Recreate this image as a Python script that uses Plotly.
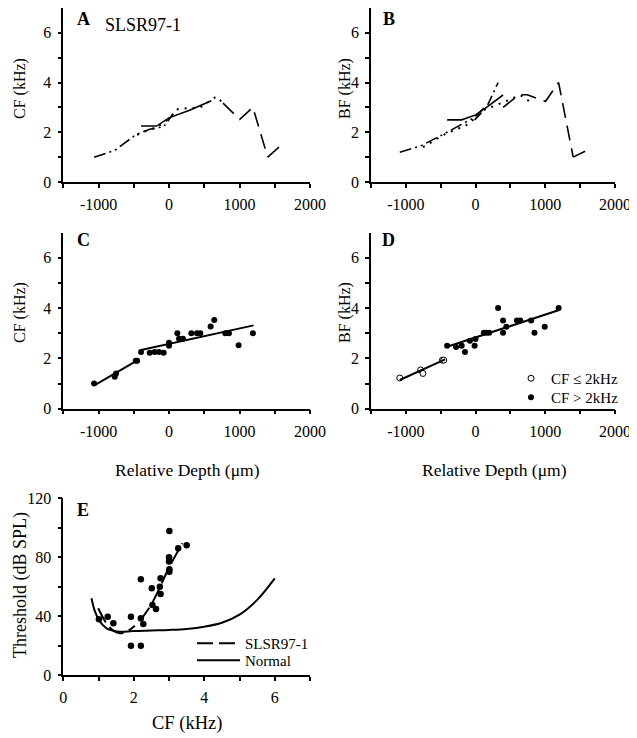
import plotly.graph_objects as go

# page body has an 8px default margin, so the figure is drawn 8px in from the corner
OFF = 8
W, H = 637 - OFF, 738 - OFF
FONT = "Liberation Serif, Times New Roman, serif"

# ---------------- Data ----------------
# Panel A: CF vs relative depth, per-penetration tracks
a_t1_x = [-1063, -770, -472, -274, -142, -76, 60]
a_t1_y = [1.0, 1.27, 1.9, 2.12, 2.19, 2.22, 2.75]
a_t2_x = [-397, -177, 0, 300, 600]
a_t2_y = [2.25, 2.25, 2.58, 2.9, 3.27]
a_t3_x = [-453, -274, -177, 0, 128, 318, 444, 602, 673, 766]
a_t3_y = [1.9, 2.12, 2.19, 2.55, 2.94, 2.98, 3.0, 3.31, 3.44, 3.17]
a_t4_x = [766, 1003, 1190, 1400]
a_t4_y = [3.17, 2.52, 3.0, 1.0]
a_t5_x = [1400, 1600]
a_t5_y = [1.0, 1.5]

# Panel B: BF vs relative depth, per-penetration tracks
b_t1_x = [-1087, -788, -456, -280, -152, -14, 119]
b_t1_y = [1.2, 1.45, 1.93, 2.2, 2.4, 2.6, 2.98]
b_t2_x = [-408, -199, 0, 157, 394]
b_t2_y = [2.5, 2.5, 2.7, 3.0, 3.5]
b_t3_x = [-755, -456, -280, -152, -81, 119, 394, 441, 641, 797]
b_t3_y = [1.4, 1.9, 2.12, 2.25, 2.39, 2.9, 3.2, 3.26, 3.5, 3.2]
b_t4_x = [-14, 157, 241, 323]
b_t4_y = [2.5, 3.0, 3.5, 4.0]
b_t5_x = [394, 574, 621, 741, 1002, 1191, 1400]
b_t5_y = [3.0, 3.38, 3.51, 3.51, 3.24, 4.0, 1.0]
b_t6_x = [1400, 1571]
b_t6_y = [1.0, 1.24]

# Panel C: CF scatter
c_x = [-1063, -770, -751, -472, -453, -397, -274, -203, -142, -76, 0, 0,
       118, 142, 198, 316, 397, 444, 590, 642, 798, 850, 987, 1190]
c_y = [1.0, 1.27, 1.4, 1.9, 1.9, 2.25, 2.22, 2.25, 2.25, 2.22, 2.5, 2.62,
       3.0, 2.78, 2.78, 3.0, 3.0, 3.0, 3.27, 3.52, 3.0, 3.0, 2.52, 3.0]
c_fit1_x = [-1053, -425]
c_fit1_y = [0.94, 1.96]
c_fit2_x = [-397, 1200]
c_fit2_y = [2.33, 3.31]

# Panel D: BF scatter
d_low_x = [-1087, -788, -755, -475, -456]
d_low_y = [1.22, 1.54, 1.40, 1.93, 1.93]
d_high_x = [-408, -280, -199, -152, -81, -14, 0, 119, 157, 195, 323, 394, 394,
            441, 593, 641, 797, 845, 992, 1191]
d_high_y = [2.5, 2.45, 2.5, 2.25, 2.7, 2.5, 2.77, 3.02, 3.02, 3.02, 4.0, 3.5, 3.02,
            3.26, 3.5, 3.5, 3.5, 3.02, 3.26, 4.0]
d_fit1_x = [-1087, -437]
d_fit1_y = [1.14, 1.96]
d_fit2_x = [-408, 1200]
d_fit2_y = [2.46, 3.92]

# Panel E: threshold vs CF
e_x = [1.01, 1.26, 1.42, 1.92, 1.92, 2.20, 2.20, 2.20, 2.27, 2.51, 2.53, 2.63,
       2.74, 2.76, 2.76, 3.0, 3.0, 3.01, 3.01, 3.01, 3.26, 3.50]
e_y = [37.8, 39.6, 35.1, 39.6, 19.9, 19.9, 65.0, 38.5, 34.6, 58.9, 47.5, 44.8,
       60.0, 65.7, 55.0, 79.9, 77.0, 71.8, 70.2, 97.8, 86.0, 88.1]
e_slsr1_x = [0.99, 1.2, 1.4, 1.6, 1.8, 2.03]
e_slsr1_y = [45.3, 36.0, 30.5, 28.3, 29.5, 33.5]
e_slsr2_x = [2.17, 2.5, 2.75, 3.0, 3.38]
e_slsr2_y = [36.5, 48.0, 60.0, 73.0, 89.4]
e_norm_x = [0.8, 0.9, 1.04, 1.23, 1.42, 1.61, 1.8, 2.0, 2.5, 3.0, 3.5, 4.0,
            4.5, 5.0, 5.5, 6.0]
e_norm_y = [52.1, 43.0, 36.2, 31.7, 30.1, 29.4, 29.5, 29.8, 30.2, 30.6, 31.3,
            32.8, 35.5, 41.0, 51.0, 65.6]

depth_ticks = [-1500, -1000, -500, 0, 500, 1000, 1500, 2000]
depth_text = ["", "-1000", "", "0", "", "1000", "", "2000"]
freq_ticks = [0, 1, 2, 3, 4, 5, 6]
freq_text = ["0", "", "2", "", "4", "", "6"]
cfE_ticks = [0, 1, 2, 3, 4, 5, 6, 7]
cfE_text = ["0", "", "2", "", "4", "", "6", ""]
thr_ticks = [0, 20, 40, 60, 80, 100, 120]
thr_text = ["0", "", "40", "", "80", "", "120"]

# ---------------- Figure ----------------
fig = go.Figure()
LW = 1.6

def line(x, y, dash, ax, width=LW, shape="linear", **kw):
    fig.add_trace(go.Scatter(x=x, y=y, mode="lines", xaxis="x" + ax, yaxis="y" + ax,
                             line=dict(color="black", width=width, dash=dash, shape=shape),
                             showlegend=False, hoverinfo="skip", **kw))

DDD = "12px,4px,2px,4px,2px,4px"
DOT = "2px,6px"
LDASH = "15px,8px"

line(a_t1_x, a_t1_y, DDD, "")
line(a_t2_x, a_t2_y, "solid", "")
line(a_t3_x, a_t3_y, DOT, "", width=2)
line(a_t4_x, a_t4_y, LDASH, "")
line(a_t5_x, a_t5_y, LDASH, "")

line(b_t1_x, b_t1_y, DDD, "2")
line(b_t2_x, b_t2_y, "solid", "2")
line(b_t3_x, b_t3_y, DOT, "2", width=2)
line(b_t4_x, b_t4_y, "10px,4px,2px,4px", "2")
line(b_t5_x, b_t5_y, LDASH, "2")
line(b_t6_x, b_t6_y, LDASH, "2")

# Panel C
fig.add_trace(go.Scatter(x=c_x, y=c_y, mode="markers", xaxis="x3", yaxis="y3",
                         marker=dict(color="black", size=6), showlegend=False))
line(c_fit1_x, c_fit1_y, "solid", "3", width=2)
line(c_fit2_x, c_fit2_y, "solid", "3", width=2)

# Panel D
fig.add_trace(go.Scatter(x=d_low_x, y=d_low_y, mode="markers", xaxis="x4", yaxis="y4",
                         name="CF ≤ 2kHz", legend="legend",
                         marker=dict(color="white", size=6, line=dict(color="black", width=1))))
fig.add_trace(go.Scatter(x=d_high_x, y=d_high_y, mode="markers", xaxis="x4", yaxis="y4",
                         name="CF > 2kHz", legend="legend2",
                         marker=dict(color="black", size=6)))
line(d_fit1_x, d_fit1_y, "solid", "4", width=2)
line(d_fit2_x, d_fit2_y, "solid", "4", width=2)

# Panel E
fig.add_trace(go.Scatter(x=e_x, y=e_y, mode="markers", xaxis="x5", yaxis="y5",
                         marker=dict(color="black", size=6.5), showlegend=False))
fig.add_trace(go.Scatter(x=e_slsr1_x, y=e_slsr1_y, mode="lines", xaxis="x5", yaxis="y5",
                         name="SLSR97-1", legend="legend3", legendgroup="slsr",
                         line=dict(color="black", width=2, dash="16px,6px", shape="spline")))
fig.add_trace(go.Scatter(x=e_slsr2_x, y=e_slsr2_y, mode="lines", xaxis="x5", yaxis="y5",
                         name="SLSR97-1", legend="legend3", legendgroup="slsr", showlegend=False,
                         line=dict(color="black", width=2, dash="16px,6px", shape="spline")))
fig.add_trace(go.Scatter(x=e_norm_x, y=e_norm_y, mode="lines", xaxis="x5", yaxis="y5",
                         name="Normal", legend="legend4",
                         line=dict(color="black", width=2, shape="spline")))

def px_x(p):
    return (p - OFF) / W

def px_y(p):
    return 1 - (p - OFF) / H

xA = [px_x(63.3), px_x(310)]
xB = [px_x(371), px_x(615)]
yA = [px_y(182), min(px_y(5), 1.0)]
yC = [px_y(408.7), px_y(232.5)]
yE = [px_y(675), px_y(498.3)]

def axis(domain, rng, tv, tt, anchor):
    return dict(domain=domain, range=rng, tickvals=tv, ticktext=tt, anchor=anchor,
                automargin=False,
                showline=True, linecolor="black", linewidth=1.5, ticks="outside",
                ticklen=4, tickwidth=1.5, tickcolor="black", showgrid=False, zeroline=False,
                tickfont=dict(family=FONT, size=16, color="black"), ticklabelstandoff=3,
                fixedrange=True)

def leg(x, y, fs, iw):
    return dict(x=px_x(x), y=px_y(y), xanchor="left", yanchor="top",
                bgcolor="rgba(0,0,0,0)", font=dict(family=FONT, size=fs),
                itemwidth=iw, tracegroupgap=0, borderwidth=0)

fig.update_layout(
    template="none",
    width=W, height=H, margin=dict(l=0, r=0, t=0, b=0, autoexpand=False),
    paper_bgcolor="white", plot_bgcolor="white",
    font=dict(family=FONT, size=16, color="black"),
    xaxis=axis(xA, [-1500, 2000], depth_ticks, depth_text, "y"),
    yaxis=axis(yA, [0, 7], freq_ticks, freq_text, "x"),
    xaxis2=axis(xB, [-1500, 2000], depth_ticks, depth_text, "y2"),
    yaxis2=axis(yA, [0, 7], freq_ticks, freq_text, "x2"),
    xaxis3=axis(xA, [-1500, 2000], depth_ticks, depth_text, "y3"),
    yaxis3=axis(yC, [0, 7], freq_ticks, freq_text, "x3"),
    xaxis4=axis(xB, [-1500, 2000], depth_ticks, depth_text, "y4"),
    yaxis4=axis(yC, [0, 7], freq_ticks, freq_text, "x4"),
    xaxis5=axis(xA, [0, 7], cfE_ticks, cfE_text, "y5"),
    yaxis5=axis(yE, [0, 120], thr_ticks, thr_text, "x5"),
    legend=leg(511, 362, 15, 30),
    legend2=leg(511, 381, 15, 30),
    legend3=leg(192, 627, 15, 43),
    legend4=leg(192, 644, 15, 43),
)

def ann(text, x, y, size=18, angle=0, bold=False):
    t = f"<b>{text}</b>" if bold else text
    fig.add_annotation(text=t, x=px_x(x), y=px_y(y), xref="paper", yref="paper",
                       showarrow=False, textangle=angle, xanchor="center", yanchor="middle",
                       font=dict(family=FONT, size=size, color="black"))

ann("A", 83, 19, 18, bold=True)
ann("B", 389, 19, 18, bold=True)
ann("C", 83, 240, 18, bold=True)
ann("D", 389, 240, 18, bold=True)
ann("E", 83, 510, 18, bold=True)
ann("SLSR97-1", 143, 25, 18)
ann("CF (kHz)", 20, 89, 16, -90)
ann("BF (kHz)", 345, 89, 16, -90)
ann("CF (kHz)", 20, 313, 16, -90)
ann("BF (kHz)", 345, 313, 16, -90)
ann("Relative Depth (μm)", 187, 470, 17.5)
ann("Relative Depth (μm)", 494, 470, 17.5)
ann("Threshold (dB SPL)", 20, 585, 18, -90)
ann("CF (kHz)", 187, 723, 18.5)

fig.write_html("out.html")
